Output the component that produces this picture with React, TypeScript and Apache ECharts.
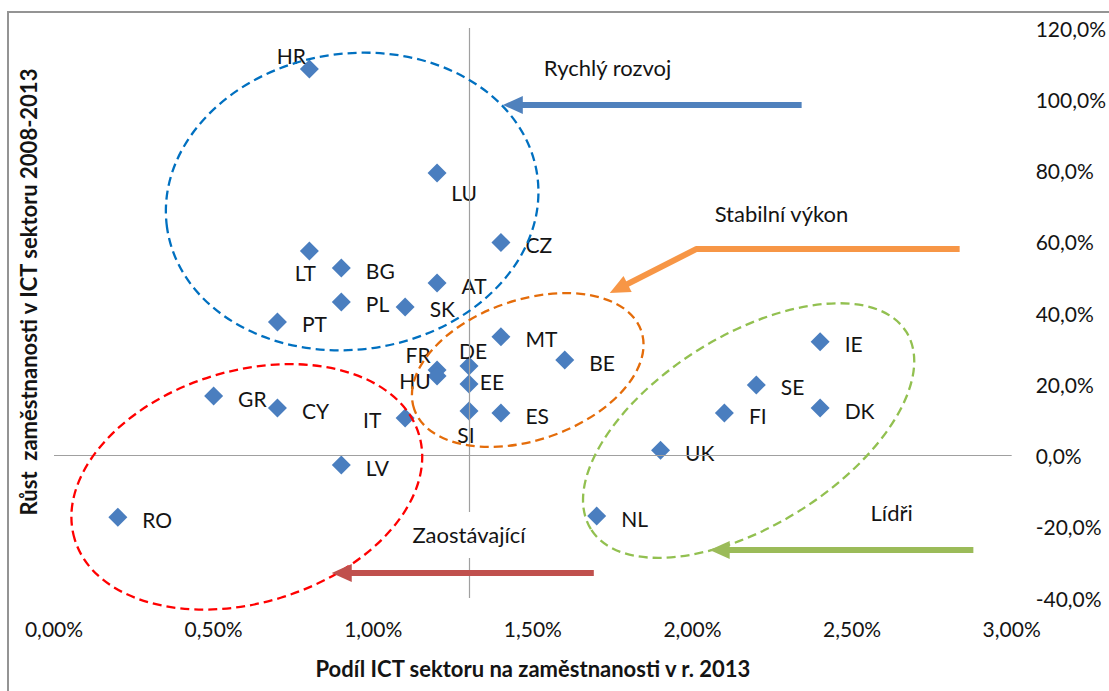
import React, { useEffect, useRef } from "react";
import * as echarts from "echarts";

const countries = ["HR","LU","CZ","LT","BG","AT","PL","SK","PT","MT","DE","FR","HU","EE","SI","ES","IT","BE","GR","CY","LV","RO","UK","NL","IE","SE","FI","DK"];
const ictShare2013 = [0.8,1.2,1.4,0.8,0.9,1.2,0.9,1.1,0.7,1.4,1.3,1.2,1.2,1.3,1.3,1.4,1.1,1.6,0.5,0.7,0.9,0.2,1.9,1.7,2.4,2.2,2.1,2.4];
const growth2008_2013 = [108.5,79.3,59.8,57.4,52.6,48.4,43.1,41.7,37.5,33.3,25.1,24.0,22.3,20.1,12.5,11.9,10.5,26.8,16.7,13.3,-2.7,-17.3,1.5,-17.0,31.9,19.8,11.9,13.3];

const xTicks = { min: 0, max: 3, interval: 0.5 };
const yTicks = { min: -40, max: 120, interval: 20 };
const crossX = 1.3;

const xTitle = "Podíl ICT sektoru na zaměstnanosti v r. 2013";
const yTitle = "Růst  zaměstnanosti v ICT sektoru 2008-2013";

// label placement exceptions (offset of label centre from marker centre, px)
const labelOffsets: Record<string, [number, number]> = {
  HR: [-18, -13], LU: [27, 20], LT: [-4, 21], DE: [4, -16], FR: [-19, -16],
  HU: [-22, 4], SI: [-3, 24], IT: [-33, 1], EE: [23, -2],
};

// annotation groups (centres in data units)
const groupNames = ["Rychlý rozvoj", "Stabilní výkon", "Zaostávající", "Lídři"];
const groupTextPos: [number, number][] = [[1.734, 108.8], [2.279, 67.8], [1.3, -22.3], [2.624, -15.9]];
const ellipseCenters: [number, number][] = [[0.934, 71.3], [1.484, 24.0], [0.604, -8.8], [2.176, 7.0]];
const ellipseRadii: [number, number][] = [[187, 148], [120, 70], [180, 116], [186, 95]];
const ellipseTilt = [8, 19, 17, 32];
const ellipseColors = ["#0070C0", "#E46C0A", "#FF0000", "#92C050"];
const arrowColors = ["#4F81BD", "#F79646", "#C0504D", "#9BBB59"];
const arrowPaths: [number, number][][] = [
  [[2.342, 98.4], [1.406, 98.4]],
  [[2.837, 58.0], [2.013, 58.0], [1.741, 45.6]],
  [[1.691, -33.0], [0.870, -33.0]],
  [[2.880, -26.5], [2.054, -26.5]],
];

const FONT = "Lato, 'Open Sans', sans-serif";
const TXT = "#141414";

export default function App() {
  const ref = useRef<HTMLDivElement>(null);
  useEffect(() => {
    if (!ref.current) return;
    const chart = echarts.init(ref.current, null, { renderer: "svg" });
    const data = countries.map((c, i) => {
      const off = labelOffsets[c];
      return {
        name: c,
        value: [ictShare2013[i], growth2008_2013[i]],
        label: off
          ? { position: "inside", offset: off }
          : { position: "right", distance: 15, offset: [0, 2] },
      };
    });
    chart.setOption({
      animation: false,
      backgroundColor: "#ffffff",
      textStyle: { fontFamily: FONT },
      grid: { left: 54, right: 97, top: 28, bottom: 93 },
      xAxis: {
        type: "value",
        ...xTicks,
        axisLine: { show: false },
        axisTick: { show: false },
        splitLine: { show: false },
        axisLabel: {
          margin: 20,
          fontSize: 21,
          color: TXT,
          fontFamily: FONT,
          formatter: (v: number) => v.toFixed(2).replace(".", ",") + "%",
        },
        name: xTitle,
        nameLocation: "middle",
        nameGap: 59,
        nameTextStyle: { fontSize: 22, fontWeight: "bold", color: TXT, fontFamily: FONT },
      },
      yAxis: {
        type: "value",
        position: "right",
        ...yTicks,
        axisLine: { show: false },
        axisTick: { show: false },
        splitLine: { show: false },
        axisLabel: {
          margin: 24,
          fontSize: 21,
          color: TXT,
          fontFamily: FONT,
          formatter: (v: number) => v.toFixed(1).replace(".", ",") + "%",
        },
      },
      series: [
        {
          type: "scatter",
          symbol: "diamond",
          symbolSize: 19,
          itemStyle: { color: "#4A7EBF", opacity: 1 },
          label: {
            show: true,
            formatter: "{b}",
            fontSize: 21,
            color: TXT,
            fontFamily: FONT,
          },
          data,
          markLine: {
            silent: true,
            symbol: "none",
            label: { show: false },
            lineStyle: { color: "#a0a0a0", width: 1.2, type: "solid" },
            data: [{ xAxis: crossX }, { yAxis: 0 }],
          },
        },
      ],
    });

    const toPx = (p: [number, number]) => chart.convertToPixel({ gridIndex: 0 }, p) as number[];
    const graphics: any[] = [];
    graphics.push({
      type: "rect",
      shape: { x: 8, y: 12, width: 1200, height: 800 },
      style: { fill: "none", stroke: "#949494", lineWidth: 2 },
      silent: true,
      z: 1,
    });
    graphics.push({
      type: "text",
      x: 28,
      y: 292,
      rotation: Math.PI / 2,
      style: {
        text: yTitle,
        fontSize: 22,
        fontWeight: "bold",
        fontFamily: FONT,
        fill: TXT,
        align: "center",
        verticalAlign: "middle",
      },
      z: 100,
    });
    ellipseCenters.forEach((c, i) => {
      const p = toPx(c);
      graphics.push({
        type: "ellipse",
        x: p[0],
        y: p[1],
        rotation: (ellipseTilt[i] * Math.PI) / 180,
        shape: { cx: 0, cy: 0, rx: ellipseRadii[i][0], ry: ellipseRadii[i][1] },
        style: { fill: "none", stroke: ellipseColors[i], lineWidth: 2.3, lineDash: [9, 5] },
        silent: true,
        z: 100,
      });
    });
    arrowPaths.forEach((path, i) => {
      const pts = path.map(toPx);
      const tip = pts[pts.length - 1];
      const prev = pts[pts.length - 2];
      const dx = tip[0] - prev[0];
      const dy = tip[1] - prev[1];
      const len = Math.hypot(dx, dy);
      const ux = dx / len, uy = dy / len;
      const headLen = 20, headHalf = 9;
      const base = [tip[0] - ux * headLen, tip[1] - uy * headLen];
      const linePts = [...pts.slice(0, -1), [base[0] + ux * 2, base[1] + uy * 2]];
      graphics.push({
        type: "polyline",
        shape: { points: linePts },
        style: { stroke: arrowColors[i], lineWidth: 6, fill: "none", lineJoin: "round" },
        silent: true,
        z: 101,
      });
      graphics.push({
        type: "polygon",
        shape: {
          points: [
            tip,
            [base[0] - uy * headHalf, base[1] + ux * headHalf],
            [base[0] + uy * headHalf, base[1] - ux * headHalf],
          ],
        },
        style: { fill: arrowColors[i] },
        silent: true,
        z: 101,
      });
    });
    groupNames.forEach((t, i) => {
      const p = toPx(groupTextPos[i]);
      graphics.push({
        type: "text",
        x: p[0],
        y: p[1],
        style: {
          text: t,
          fontSize: 22,
          fontFamily: FONT,
          fill: TXT,
          align: "center",
          verticalAlign: "middle",
          backgroundColor: i === 2 ? "#ffffff" : undefined,
          padding: i === 2 ? [12, 4] : 0,
        },
        silent: true,
        z: 102,
      });
    });
    chart.setOption({ graphic: { elements: graphics } });

    return () => chart.dispose();
  }, []);
  return (
    <div
      ref={ref}
      style={{ position: "fixed", left: 0, top: 0, width: 1109, height: 691 }}
    />
  );
}
